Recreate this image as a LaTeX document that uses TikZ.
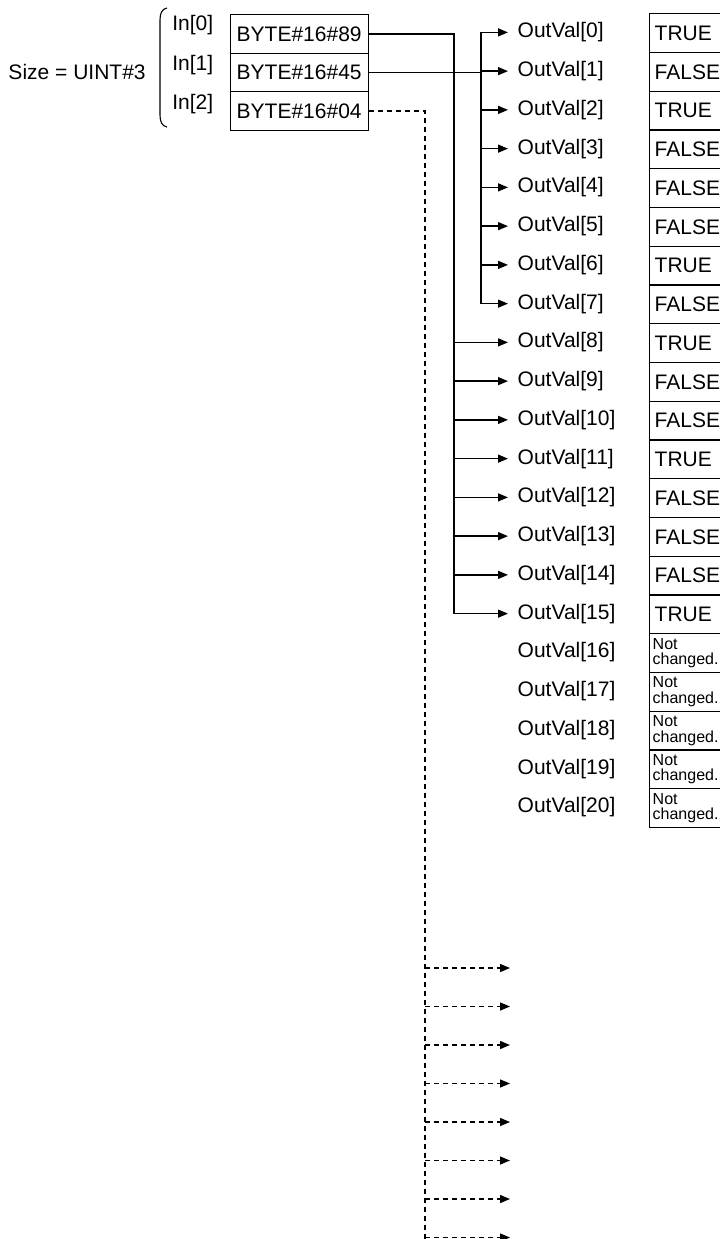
\documentclass[tikz,border=0pt]{standalone}
\usepackage{fontspec}
\setmainfont{Liberation Sans}
\usetikzlibrary{arrows.meta}

\tikzset{
  inbox/.style={draw, anchor=north west, minimum height=19.25pt, text width=63pt,
    inner xsep=3pt, inner ysep=0pt, align=left},
  valbox/.style={draw, anchor=north west, minimum height=19.375pt, text width=32pt,
    inner xsep=2.5pt, inner ysep=0pt, align=left},
  ncbox/.style={valbox, inner xsep=1.5pt, text width=34pt,
    font=\fontsize{8}{7.8}\selectfont},
  outlabel/.style={anchor=west, inner xsep=4.5pt, inner ysep=1pt},
  bitarrow/.style={->},
  skiparrow/.style={->, dash pattern=on 2.5pt off 2pt}
}

\begin{document}
\begin{tikzpicture}[x=0.5pt, y=-0.5pt, line width=0.7pt, line cap=butt,
    >={Stealth[length=5pt,width=4pt,inset=0pt]},
    font=\fontsize{10.5}{12}\selectfont]
  \useasboundingbox (0,0) rectangle (719,1239);
  % --- input array ---
  \node[anchor=east] (size) at (153,72) {Size = UINT\#3};
  \draw[line width=0.55pt] (167,8) .. controls (162,9) and (160,13) .. (160,20)
    -- (160,115) .. controls (160,122) and (162,126) .. (167,127);
  \node[anchor=west] (in0) at (165,25) {In[0]};
  \node[anchor=west] (in1) at (165,65) {In[1]};
  \node[anchor=west] (in2) at (165,104) {In[2]};
  \node[inbox] (b0) at (230,14) {BYTE\#16\#89};
  \node[inbox] (b1) at (230,52.5) {BYTE\#16\#45};
  \node[inbox] (b2) at (230,91) {BYTE\#16\#04};
  % --- output array ---
  \foreach \v [count=\i from 0] in {TRUE,FALSE,TRUE,FALSE,FALSE,FALSE,TRUE,FALSE,
      TRUE,FALSE,FALSE,TRUE,FALSE,FALSE,FALSE,TRUE} {
    \node[valbox] (v\i) at (649,{13+38.75*\i}) {\v};
  }
  \foreach \i in {16,...,20} {
    \node[ncbox] (v\i) at (649,{13+38.75*\i}) {Not\\changed.};
  }
  \foreach \i in {0,...,20} {
    \node[outlabel] (o\i) at (508,{13+38.75*(\i+0.5)}) {OutVal[\i]};
  }
  % --- bit lines ---
  \coordinate (busA) at (454,0);
  \coordinate (busB) at (481,0);
  \coordinate (busC) at (425,0);
  \coordinate (dashEnd) at (425,1245);
  % In[1] -> OutVal[0..7]
  \draw[<->] (o0.west) -- (o0.west -| busB) -- (o7.west -| busB) -- (o7.west);
  \draw (b1.east) -- (b1.east -| busB);
  \foreach \i in {1,...,6} \draw[bitarrow] (o\i.west -| busB) -- (o\i.west);
  % In[0] -> OutVal[8..15]
  \draw[bitarrow] (b0.east) -| (o15.west -| busA) -- (o15.west);
  \foreach \i in {8,...,14} \draw[bitarrow] (o\i.west -| busA) -- (o\i.west);
  % In[2] -> following elements
  \draw[dash pattern=on 2.5pt off 2pt] (b2.east) -| (dashEnd);
  \foreach \k in {0,...,7} {
    \coordinate (t\k) at (510,{968+38.5*\k});
    \draw[skiparrow] (t\k -| busC) -- (t\k);
  }
\end{tikzpicture}
\end{document}
